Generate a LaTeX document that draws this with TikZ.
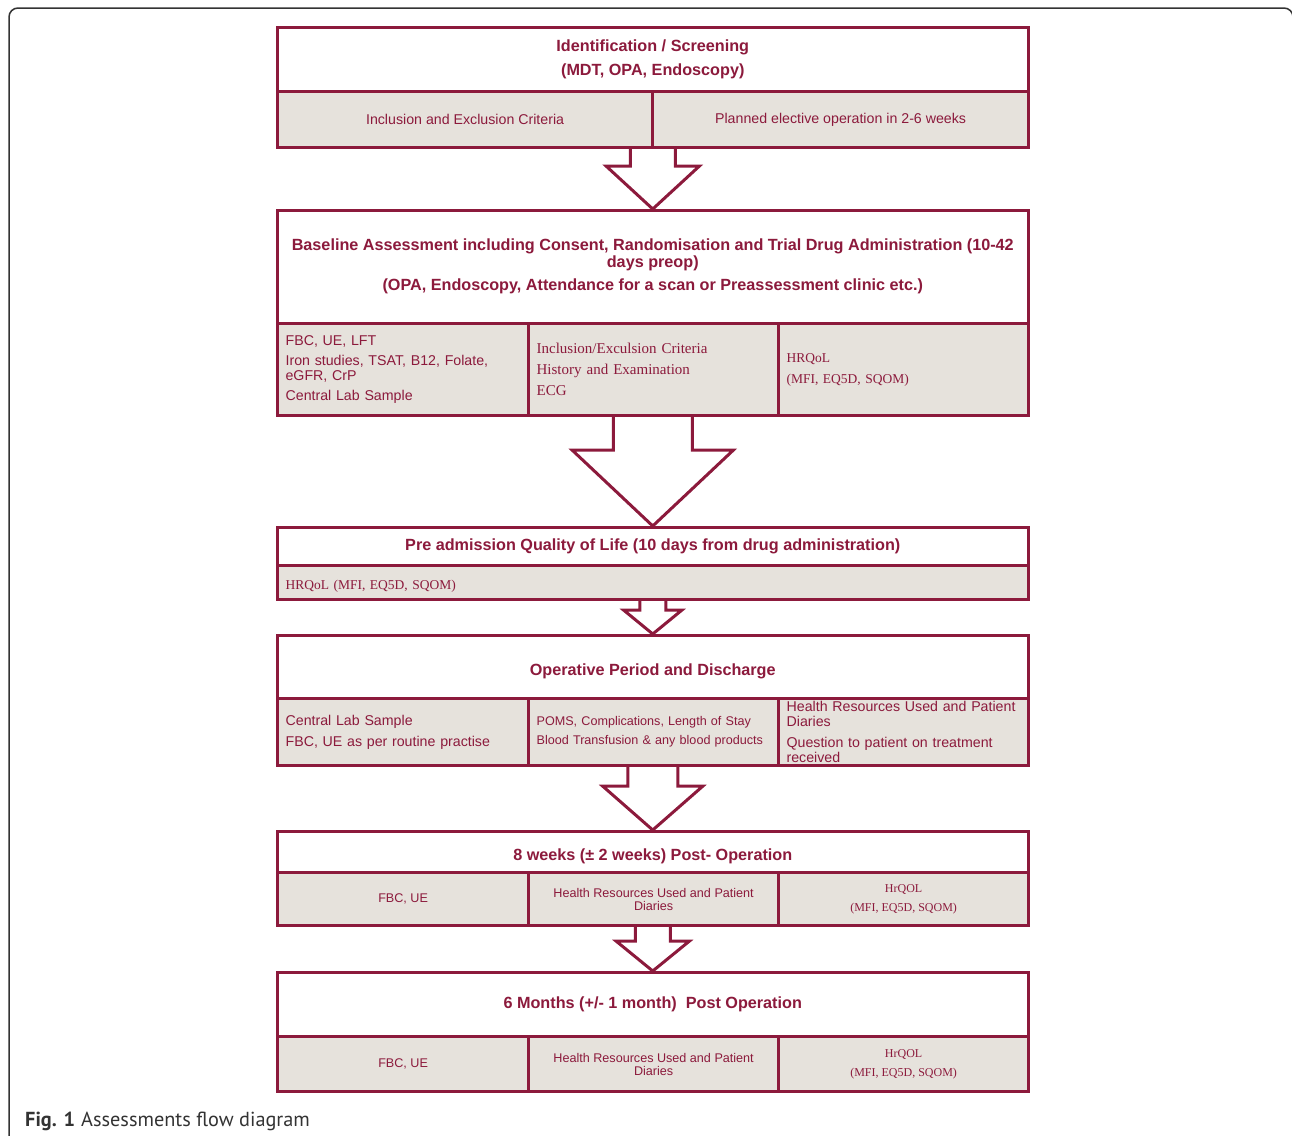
\documentclass[tikz,border=0pt]{standalone}
\usepackage{fontspec}
\setmainfont{Liberation Sans}
\newfontfamily\cellserif{Liberation Serif}
\newfontfamily\captionfont{PT Sans}
\usetikzlibrary{calc}

\definecolor{maroon}{RGB}{140,26,60}
\definecolor{cellgrey}{RGB}{230,226,220}
\definecolor{framegrey}{RGB}{51,51,51}

% block arrow: header above, row cell above, header below, shaft half width, head half width, shaft length
\newcommand{\blockarrow}[6]{%
  \draw[flowarrow] let \p1=(#1.center |- #2.south), \p2=(#3.north) in
    (\x1-#4pt,\y1) -- (\x1-#4pt,\y1-#6pt) -- (\x1-#5pt,\y1-#6pt) -- (\x2,\y2)
    -- (\x1+#5pt,\y1-#6pt) -- (\x1+#4pt,\y1-#6pt) -- (\x1+#4pt,\y1);
}

\begin{document}
\begin{tikzpicture}
  [x=1pt,y=-1pt,
   every node/.style={inner sep=0pt, text=maroon},
   head/.style={draw=maroon, line width=2.5pt, fill=white, anchor=north west, align=center,
     minimum width=751, font=\bfseries\fontsize{16.2}{17}\selectfont},
   cell/.style={draw=maroon, line width=3.2pt, fill=cellgrey, anchor=north west, align=center,
     font=\fontsize{14.2}{15}\selectfont},
   leftcell/.style={cell, align=left, text width=#1},
   smallcell/.style={font=\fontsize{12.6}{13}\selectfont},
   serifcell/.style={font=\cellserif\fontsize{15}{16}\selectfont},
   flowarrow/.style={draw=maroon, line width=3pt, miter limit=20}]
  \useasboundingbox (0,0) rectangle (1292,1135);

  % figure frame
  \draw[framegrey, line width=1.5pt, rounded corners=9pt] (9,1160) -- (9,8) -- (1293,8) -- (1293,1160);

  % identification / screening
  \node[head, minimum height=64] (h1) at (276,26) {Identification / Screening\\[7pt](MDT, OPA, Endoscopy)};
  \node[cell, minimum width=375, minimum height=56] (r1a) at (276,90) {Inclusion and Exclusion Criteria};
  \node[cell, minimum width=376, minimum height=56] (r1b) at (651,90) {Planned elective operation in 2-6 weeks};

  % baseline assessment
  \node[head, minimum height=113] (h2) at (276,209) {Baseline Assessment including Consent, Randomisation and Trial Drug Administration (10-42\\days preop)\\[6pt](OPA, Endoscopy, Attendance for a scan or Preassessment clinic etc.)};
  \node[leftcell=235, minimum width=251, minimum height=92] (r2a) at (276,322) {FBC, UE, LFT\\[5pt]Iron studies, TSAT, B12, Folate,\\eGFR, CrP\\[5pt]Central Lab Sample};
  \node[leftcell=234, serifcell, minimum width=250, minimum height=92] (r2b) at (527,322) {Inclusion/Exculsion Criteria\\[5pt]History and Examination\\[5pt]ECG};
  \node[leftcell=234, serifcell, font=\cellserif\fontsize{13.5}{16}\selectfont, minimum width=250, minimum height=92] (r2c) at (777,322) {HRQoL\\[5pt](MFI, EQ5D, SQOM)};

  % pre admission
  \node[head, minimum height=38] (h3) at (276,526) {Pre admission Quality of Life (10 days from drug administration)};
  \node[leftcell=735, serifcell, font=\cellserif\fontsize{13.5}{16}\selectfont, text height=17pt, minimum width=751, minimum height=34] (r3) at (276,564) {HRQoL (MFI, EQ5D, SQOM)};

  % operative period
  \node[head, minimum height=63, text height=20pt] (h4) at (276,634) {Operative Period and Discharge};
  \node[leftcell=235, minimum width=251, minimum height=67] (r4a) at (276,697) {Central Lab Sample\\[6pt]FBC, UE as per routine practise};
  \node[leftcell=234, smallcell, minimum width=250, minimum height=67] (r4b) at (527,697) {POMS, Complications, Length of Stay\\[6pt]Blood Transfusion \& any blood products};
  \node[leftcell=234, minimum width=250, minimum height=67] (r4c) at (777,697) {Health Resources Used and Patient\\Diaries\\[6pt]Question to patient on treatment\\received};

  % 8 weeks
  \node[head, minimum height=41, text height=21pt] (h5) at (276,830) {8 weeks (± 2 weeks) Post- Operation};
  \node[cell, smallcell, minimum width=251, minimum height=53] (r5a) at (276,871) {FBC, UE};
  \node[cell, smallcell, minimum width=250, minimum height=53] (r5b) at (527,871) {Health Resources Used and Patient\\Diaries};
  \node[cell, serifcell, font=\cellserif\fontsize{12}{13}\selectfont, minimum width=250, minimum height=53] (r5c) at (777,871) {HrQOL\\[6pt](MFI, EQ5D, SQOM)};

  % 6 months
  \node[head, minimum height=64] (h6) at (276,971) {6 Months (+/- 1 month)\ \ Post Operation};
  \node[cell, smallcell, minimum width=251, minimum height=55] (r6a) at (276,1035) {FBC, UE};
  \node[cell, smallcell, minimum width=250, minimum height=55] (r6b) at (527,1035) {Health Resources Used and Patient\\Diaries};
  \node[cell, serifcell, font=\cellserif\fontsize{12}{13}\selectfont, minimum width=250, minimum height=55] (r6c) at (777,1035) {HrQOL\\[6pt](MFI, EQ5D, SQOM)};

  % arrows between stages
  \blockarrow{h1}{r1a}{h2}{22.5}{46.5}{17}
  \blockarrow{h2}{r2a}{h3}{39.5}{80.5}{33}
  \blockarrow{h3}{r3}{h4}{13}{29}{9}
  \blockarrow{h4}{r4a}{h5}{25}{50}{19}
  \blockarrow{h5}{r5a}{h6}{17.5}{36.5}{14}

  % caption
  \node[anchor=base west, text=framegrey, font=\captionfont\fontsize{20.3}{23}\selectfont] (cap) at (25,1126) {\textbf{Fig. 1}\hspace{6pt}Assessments flow diagram};
\end{tikzpicture}
\end{document}
